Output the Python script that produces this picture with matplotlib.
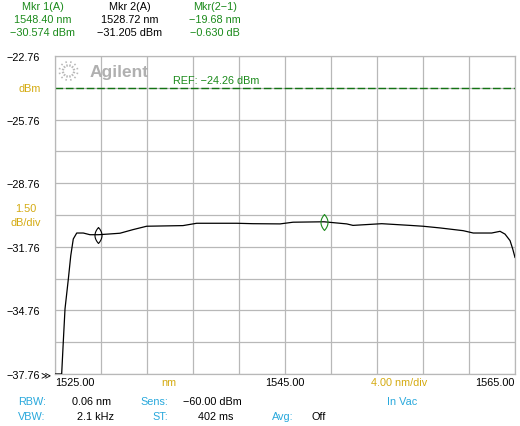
import numpy as np
import matplotlib
matplotlib.use('Agg')
import matplotlib.pyplot as plt
from matplotlib.path import Path
from matplotlib.lines import Line2D

plt.rcParams['font.family'] = ['Liberation Sans', 'DejaVu Sans']

# trace (nm, dBm)
wl = [1525.00, 1525.58, 1525.72, 1525.87, 1526.16, 1526.37, 1526.59, 1526.89,
      1527.46, 1528.04, 1528.77, 1529.61, 1530.65, 1531.78, 1532.97, 1536.13,
      1537.32, 1540.80, 1542.22, 1544.57, 1545.70, 1548.39, 1550.37, 1550.91,
      1553.41, 1555.87, 1557.00, 1558.48, 1560.50, 1561.37, 1562.97, 1563.70,
      1564.13, 1564.57, 1564.80, 1565.00]
power = [-37.76, -37.76, -36.25, -34.69, -33.28, -32.18, -31.39, -31.11,
         -31.11, -31.19, -31.19, -31.16, -31.12, -30.95, -30.79, -30.76,
         -30.65, -30.65, -30.67, -30.68, -30.60, -30.58, -30.68, -30.75,
         -30.67, -30.75, -30.79, -30.87, -31.00, -31.11, -31.11, -31.03,
         -31.16, -31.47, -31.86, -32.26]

mkr_wl = [1548.40, 1528.72]
mkr_pw = [-30.574, -31.205]
mkr_col = ['#1a8a1a', 'black']
ref_level = -24.26

x_start, x_stop, x_div = 1525.0, 1565.0, 4.0
y_top, y_div = -22.76, 1.5
y_bot = y_top - 10 * y_div

green = '#1a8a1a'
gold = '#d4aa10'
cyan = '#28a8dc'
W, H = 520, 427


def fx(px):
    return px / W


def fy(py):
    return 1 - py / H


fig = plt.figure(figsize=(5.2, 4.27), dpi=100)
ax = fig.add_axes([fx(55), fy(375), (515 - 55) / W, (375 - 57) / H])

ax.plot(wl, power, color='black', lw=0.9, zorder=3)
ax.axhline(ref_level, color='#137313', lw=1.0, ls=(0, (5.5, 2)), zorder=2)

# lens shaped marker
s = np.linspace(1, -1, 25)
verts = list(zip(0.44 * (1 - s ** 2), s)) + list(zip(-0.44 * (1 - s[::-1] ** 2), s[::-1]))
lens = Path(verts)
for xw, yp, c in zip(mkr_wl, mkr_pw, mkr_col):
    ax.plot([xw], [yp], marker=lens, ms=11.5, mfc='none', mec=c, mew=0.8, zorder=4)

ax.set_xlim(x_start, x_stop)
ax.set_ylim(y_bot, y_top)
xt = [x_start + i * x_div for i in range(11)]
xl = ['1525.00', '', '', '', '', '1545.00', '', '', '', '', '1565.00']
ax.set_xticks(xt, labels=xl)
yt = [y_top - i * y_div for i in range(11)]
yl = [('%.2f' % v).replace('-', '\u2212') if i % 2 == 0 else '' for i, v in enumerate(yt)]
ax.set_yticks(yt, labels=yl)
ax.tick_params(length=0, labelsize=7.8, colors='black')
ax.tick_params(axis='y', pad=10.8)
ax.tick_params(axis='x', pad=2.5)
labs = ax.get_xticklabels()
labs[0].set_ha('left')
labs[-1].set_ha('right')
ax.grid(True, color='#b8b8b8', lw=0.9)
for sp in ax.spines.values():
    sp.set_color('#b8b8b8')
    sp.set_linewidth(0.9)

fs = 7.8
# header
hdr = [(43, ['Mkr 1(A)', '1548.40 nm', '\u221230.574 dBm'], green),
       (130, ['Mkr 2(A)', '1528.72 nm', '\u221231.205 dBm'], 'black'),
       (215, ['Mkr(2\u22121)', '\u221219.68 nm', '\u22120.630 dB'], green)]
for cx, lines, c in hdr:
    for j, t in enumerate(lines):
        fig.text(fx(cx), fy(7 + 13 * j), t, color=c, fontsize=fs, ha='center', va='center')

fig.text(fx(30), fy(89), 'dBm', color=gold, fontsize=fs, ha='center', va='center')
fig.text(fx(26), fy(209), '1.50', color=gold, fontsize=fs, ha='center', va='center')
fig.text(fx(26), fy(223), 'dB/div', color=gold, fontsize=fs, ha='center', va='center')
fig.text(fx(40), fy(375), '\u226b', color='black', fontsize=7, ha='left', va='center',
         family='DejaVu Sans')
fig.text(fx(173), fy(81), 'REF: \u221224.26 dBm', color=green, fontsize=fs, ha='left', va='center')

fig.text(fx(169), fy(383), 'nm', color=gold, fontsize=fs, ha='center', va='center')
fig.text(fx(399), fy(383), '4.00 nm/div', color=gold, fontsize=fs, ha='center', va='center')

# footer
foot = [(18, 402, 'RBW:', cyan, 'left'), (72, 402, '0.06 nm', 'black', 'left'),
        (168, 402, 'Sens:', cyan, 'right'), (183, 402, '\u221260.00 dBm', 'black', 'left'),
        (387, 402, 'In Vac', cyan, 'left'),
        (18, 417, 'VBW:', cyan, 'left'), (77, 417, '2.1 kHz', 'black', 'left'),
        (168, 417, 'ST:', cyan, 'right'), (198, 417, '402 ms', 'black', 'left'),
        (272, 417, 'Avg:', cyan, 'left'), (312, 417, 'Off', 'black', 'left')]
for px, py, t, c, ha in foot:
    fig.text(fx(px), fy(py), t, color=c, fontsize=fs, ha=ha, va='center')

# Agilent logo
fig.text(fx(90), fy(76.5), 'Agilent', color='#b0b0b0', fontsize=12.5, fontweight='bold',
         ha='left', va='baseline')
cx0, cy0 = 68.5, 72
for k in range(12):
    a = np.pi * k / 6 + np.pi / 12
    r1, r2 = 4.5, 10
    fig.add_artist(Line2D([fx(cx0 + r1 * np.cos(a)), fx(cx0 + r2 * np.cos(a))],
                          [fy(cy0 + r1 * np.sin(a)), fy(cy0 + r2 * np.sin(a))],
                          transform=fig.transFigure, color='#b8b8b8', lw=1.1,
                          ls=(0, (1.5, 1))))

fig.savefig('out.png', dpi=100)
